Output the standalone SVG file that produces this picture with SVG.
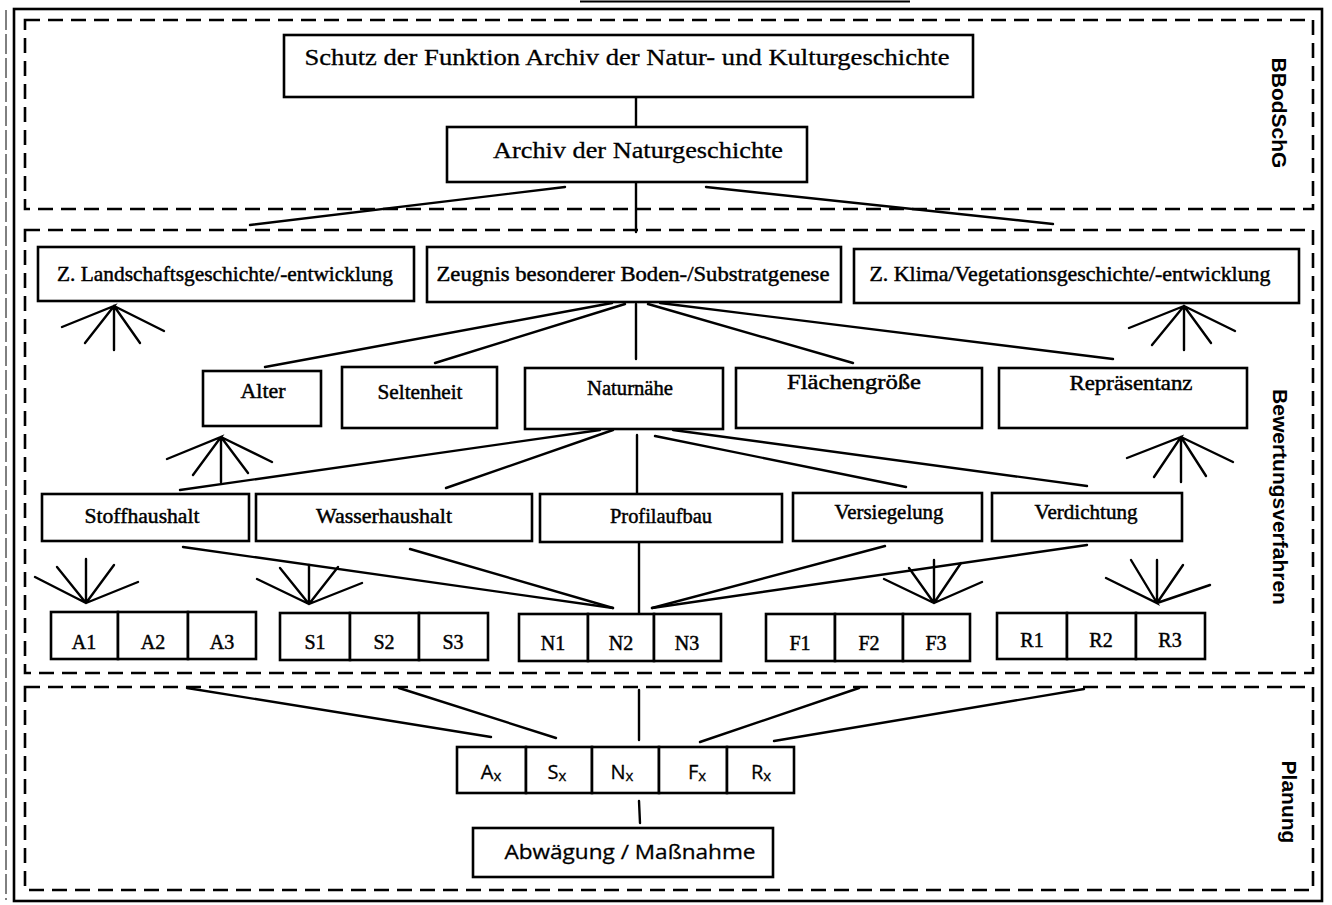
<svg xmlns="http://www.w3.org/2000/svg" width="1332" height="905" viewBox="0 0 1332 905">
<style>
.bg{fill:#fff}
.frame{fill:none;stroke:#000;stroke-width:2.6}
.dash{fill:none;stroke:#000;stroke-width:2.6;stroke-dasharray:15 8}
.box{fill:#fff;stroke:#000;stroke-width:2.6}
.t{font-family:"Liberation Serif","Times New Roman",serif;font-size:20px;text-anchor:middle;fill:#000;stroke:#000;stroke-width:0.45}
.big{font-size:24px;stroke-width:0.3}
.mid{font-size:21px}
.s{font-family:"Open Sans","Noto Sans","Liberation Sans",sans-serif;font-size:20px;text-anchor:middle;fill:#000;stroke:#000;stroke-width:0.3}
.side{font-family:"Liberation Sans",Arial,sans-serif;font-size:21px;font-weight:bold;text-anchor:middle;fill:#000}
.conn line,.conn path{stroke:#000;stroke-width:2.4;fill:none;stroke-linecap:round}
</style>
<rect class="bg" x="0" y="0" width="1332" height="905"/>

<!-- frames / sections -->
<g id="frame">
  <line x1="580" y1="1.5" x2="910" y2="1.5" stroke="#000" stroke-width="2"/>
  <line x1="6" y1="10" x2="6" y2="900" stroke="#000" stroke-width="1" stroke-dasharray="20 4"/>
  <rect class="frame" x="14" y="9" width="1308" height="892"/>
</g>
<g id="sec-bbodschg">
  <rect class="dash" x="25" y="20" width="1288" height="189"/>
  <text class="side" transform="translate(1272,113) rotate(90)">BBodSchG</text>
</g>
<g id="sec-bewertung">
  <rect class="dash" x="25" y="230" width="1288" height="443"/>
  <text class="side" transform="translate(1273,497) rotate(90)">Bewertungsverfahren</text>
</g>
<g id="sec-planung">
  <rect class="dash" x="25" y="687" width="1288" height="203"/>
  <text class="side" transform="translate(1282,802) rotate(90)">Planung</text>
</g>

<!-- connectors -->
<g id="connectors" class="conn">
  <line x1="636" y1="97" x2="636" y2="127"/>
  <line x1="636" y1="182" x2="636" y2="232"/>
  <line x1="565" y1="187" x2="250" y2="225"/>
  <line x1="706" y1="187" x2="1053" y2="224"/>
  <!-- Zeugnis to row 3 -->
  <line x1="612" y1="303" x2="265" y2="367"/>
  <line x1="625" y1="304" x2="435" y2="363"/>
  <line x1="636" y1="304" x2="636" y2="359"/>
  <line x1="648" y1="304" x2="853" y2="363"/>
  <line x1="660" y1="303" x2="1113" y2="359"/>
  <!-- Naturnaehe to row 4 -->
  <line x1="600" y1="430" x2="180" y2="490"/>
  <line x1="613" y1="430" x2="446" y2="488"/>
  <line x1="637" y1="435" x2="637" y2="493"/>
  <line x1="655" y1="436" x2="906" y2="487"/>
  <line x1="673" y1="430" x2="1087" y2="486"/>
  <!-- row 4 to N2 -->
  <line x1="183" y1="547" x2="613" y2="608"/>
  <line x1="410" y1="549" x2="613" y2="608"/>
  <line x1="639" y1="542" x2="639" y2="613"/>
  <line x1="885" y1="546" x2="652" y2="608"/>
  <line x1="1087" y1="545" x2="652" y2="608"/>
  <!-- fans -->
  <path d="M62,327 L114,306 L85,343 M114,306 L114,350 M114,306 L140,343 M114,306 L164,331"/>
  <path d="M1129,328 L1184,306 L1152,345 M1184,306 L1184,350 M1184,306 L1211,343 M1184,306 L1235,331"/>
  <path d="M167,459 L221,437 L193,475 M221,437 L221,482 M221,437 L248,473 M221,437 L272,462"/>
  <path d="M1127,458 L1181,437 L1154,477 M1181,437 L1181,482 M1181,437 L1206,476 M1181,437 L1233,462"/>
  <path d="M35,577 L86,603 L57,567 M86,603 L86,559 M86,603 L114,565 M86,603 L138,582"/>
  <path d="M257,579 L309,604 L280,568 M309,604 L309,565 M309,604 L338,567 M309,604 L362,583"/>
  <path d="M884,579 L934,603 L909,568 M934,603 L934,560 M934,603 L961,563 M934,603 L982,582"/>
  <path d="M1106,578 L1157,603 L1131,560 M1157,603 L1157,560 M1157,603 L1183,565 M1157,603 L1210,585"/>
  <!-- Planung -->
  <line x1="187" y1="688" x2="491" y2="737"/>
  <line x1="399" y1="688" x2="556" y2="738"/>
  <line x1="639" y1="690" x2="639" y2="740"/>
  <line x1="859" y1="688" x2="700" y2="742"/>
  <line x1="1084" y1="689" x2="774" y2="741"/>
  <line x1="639" y1="801" x2="640" y2="823"/>
</g>

<!-- top nodes -->
<g id="n-schutz">
  <rect class="box" x="284" y="35" width="689" height="62"/>
  <text class="t big" x="627" y="65" textLength="645" lengthAdjust="spacingAndGlyphs">Schutz der Funktion Archiv der Natur- und Kulturgeschichte</text>
</g>
<g id="n-archiv">
  <rect class="box" x="447" y="127" width="360" height="55"/>
  <text class="t big" x="638" y="158" textLength="290" lengthAdjust="spacingAndGlyphs">Archiv der Naturgeschichte</text>
</g>

<!-- row 2 -->
<g id="n-landschaft">
  <rect class="box" x="38" y="247" width="376" height="54"/>
  <text class="t mid" x="225" y="281" textLength="336" lengthAdjust="spacingAndGlyphs">Z. Landschaftsgeschichte/-entwicklung</text>
</g>
<g id="n-zeugnis">
  <rect class="box" x="427" y="247" width="414" height="55"/>
  <text class="t mid" x="633" y="281" textLength="393" lengthAdjust="spacingAndGlyphs">Zeugnis besonderer Boden-/Substratgenese</text>
</g>
<g id="n-klima">
  <rect class="box" x="854" y="249" width="445" height="54"/>
  <text class="t mid" x="1070" y="281" textLength="401" lengthAdjust="spacingAndGlyphs">Z. Klima/Vegetationsgeschichte/-entwicklung</text>
</g>

<!-- row 3 -->
<g id="n-alter">
  <rect class="box" x="203" y="371" width="118" height="55"/>
  <text class="t" x="263" y="398" textLength="45" lengthAdjust="spacingAndGlyphs">Alter</text>
</g>
<g id="n-seltenheit">
  <rect class="box" x="342" y="367" width="155" height="61"/>
  <text class="t" x="420" y="399" textLength="85" lengthAdjust="spacingAndGlyphs">Seltenheit</text>
</g>
<g id="n-naturnaehe">
  <rect class="box" x="525" y="368" width="198" height="61"/>
  <text class="t" x="630" y="395" textLength="86" lengthAdjust="spacingAndGlyphs">Naturnähe</text>
</g>
<g id="n-flaeche">
  <rect class="box" x="736" y="368" width="246" height="60"/>
  <text class="t" x="854" y="389" textLength="134" lengthAdjust="spacingAndGlyphs">Flächengröße</text>
</g>
<g id="n-repraesentanz">
  <rect class="box" x="999" y="368" width="248" height="60"/>
  <text class="t" x="1131" y="390" textLength="123" lengthAdjust="spacingAndGlyphs">Repräsentanz</text>
</g>

<!-- row 4 -->
<g id="n-stoff">
  <rect class="box" x="42" y="494" width="207" height="47"/>
  <text class="t" x="142" y="523" textLength="115" lengthAdjust="spacingAndGlyphs">Stoffhaushalt</text>
</g>
<g id="n-wasser">
  <rect class="box" x="256" y="494" width="276" height="47"/>
  <text class="t" x="384" y="523" textLength="136" lengthAdjust="spacingAndGlyphs">Wasserhaushalt</text>
</g>
<g id="n-profil">
  <rect class="box" x="540" y="494" width="242" height="48"/>
  <text class="t" x="661" y="523" textLength="102" lengthAdjust="spacingAndGlyphs">Profilaufbau</text>
</g>
<g id="n-versiegelung">
  <rect class="box" x="793" y="493" width="189" height="48"/>
  <text class="t" x="889" y="519" textLength="109" lengthAdjust="spacingAndGlyphs">Versiegelung</text>
</g>
<g id="n-verdichtung">
  <rect class="box" x="992" y="493" width="190" height="48"/>
  <text class="t" x="1086" y="519" textLength="103" lengthAdjust="spacingAndGlyphs">Verdichtung</text>
</g>

<!-- row 5 -->
<g id="n-A">
  <g id="n-A1"><rect class="box" x="51" y="612" width="67" height="47"/><text class="t" x="84" y="649">A1</text></g>
  <g id="n-A2"><rect class="box" x="118" y="612" width="70" height="47"/><text class="t" x="153" y="649">A2</text></g>
  <g id="n-A3"><rect class="box" x="188" y="612" width="68" height="47"/><text class="t" x="222" y="649">A3</text></g>
</g>
<g id="n-S">
  <g id="n-S1"><rect class="box" x="280" y="613" width="70" height="47"/><text class="t" x="315" y="649">S1</text></g>
  <g id="n-S2"><rect class="box" x="350" y="613" width="69" height="47"/><text class="t" x="384" y="649">S2</text></g>
  <g id="n-S3"><rect class="box" x="419" y="613" width="69" height="47"/><text class="t" x="453" y="649">S3</text></g>
</g>
<g id="n-N">
  <g id="n-N1"><rect class="box" x="519" y="614" width="69" height="47"/><text class="t" x="553" y="650">N1</text></g>
  <g id="n-N2"><rect class="box" x="588" y="614" width="66" height="47"/><text class="t" x="621" y="650">N2</text></g>
  <g id="n-N3"><rect class="box" x="654" y="614" width="67" height="47"/><text class="t" x="687" y="650">N3</text></g>
</g>
<g id="n-F">
  <g id="n-F1"><rect class="box" x="766" y="614" width="69" height="47"/><text class="t" x="800" y="650">F1</text></g>
  <g id="n-F2"><rect class="box" x="835" y="614" width="68" height="47"/><text class="t" x="869" y="650">F2</text></g>
  <g id="n-F3"><rect class="box" x="903" y="614" width="67" height="47"/><text class="t" x="936" y="650">F3</text></g>
</g>
<g id="n-R">
  <g id="n-R1"><rect class="box" x="997" y="613" width="70" height="46"/><text class="t" x="1032" y="647">R1</text></g>
  <g id="n-R2"><rect class="box" x="1067" y="613" width="69" height="46"/><text class="t" x="1101" y="647">R2</text></g>
  <g id="n-R3"><rect class="box" x="1136" y="613" width="69" height="46"/><text class="t" x="1170" y="647">R3</text></g>
</g>

<!-- planung row -->
<g id="n-X">
  <g id="n-Ax"><rect class="box" x="457" y="747" width="69" height="46"/><text class="s" x="491" y="779">A<tspan font-size="15" dy="2">x</tspan></text></g>
  <g id="n-Sx"><rect class="box" x="526" y="747" width="66" height="46"/><text class="s" x="557" y="779">S<tspan font-size="15" dy="2">x</tspan></text></g>
  <g id="n-Nx"><rect class="box" x="592" y="747" width="67" height="46"/><text class="s" x="622" y="779">N<tspan font-size="15" dy="2">x</tspan></text></g>
  <g id="n-Fx"><rect class="box" x="659" y="747" width="68" height="46"/><text class="s" x="697" y="779">F<tspan font-size="15" dy="2">x</tspan></text></g>
  <g id="n-Rx"><rect class="box" x="727" y="747" width="67" height="46"/><text class="s" x="761" y="779">R<tspan font-size="15" dy="2">x</tspan></text></g>
</g>
<g id="n-abwaegung">
  <rect class="box" x="473" y="828" width="300" height="49"/>
  <text class="s" x="630" y="859" font-size="24" textLength="251" lengthAdjust="spacingAndGlyphs">Abwägung / Maßnahme</text>
</g>
</svg>
